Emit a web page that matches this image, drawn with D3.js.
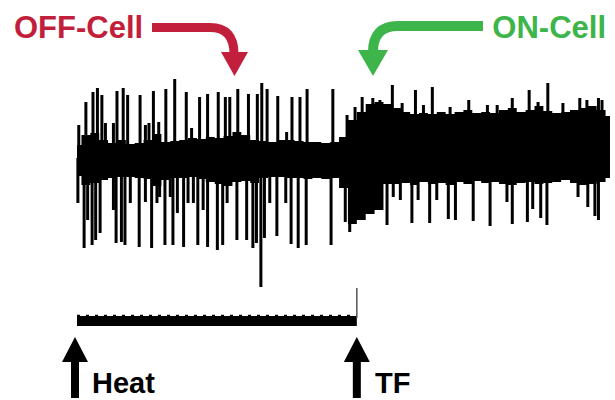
<!DOCTYPE html>
<html>
<head>
<meta charset="utf-8">
<script src="https://cdn.jsdelivr.net/npm/d3@7"></script>
<style>
  body { margin: 0; background: #fff; }
  text { font-family: "Liberation Sans", Arial, Helvetica, sans-serif; font-weight: bold; }
</style>
</head>
<body>
<div id="trace"></div>
<script>
// extracellular recording, time in s from heat onset, amplitude in uV
// envelope of the background activity, one reading per second
var envTime = d3.range(0, 61);
var envUpper = [13, 23, 25, 18, 15, 18, 14, 15, 18, 24, 16, 17, 18, 20, 19, 21, 20, 22, 26, 23,
                18, 17, 16, 18, 18, 17, 16, 16, 15, 16, 21, 38, 46, 54, 56, 54, 50, 46, 44, 45,
                44, 46, 44, 46, 48, 45, 46, 45, 48, 50, 46, 48, 52, 47, 45, 46, 48, 50, 52, 48, 42];
var envLower = [-18, -27, -25, -22, -20, -19, -19, -20, -21, -28, -22, -20, -20, -19, -21, -24, -26, -28, -24, -23,
                -25, -20, -19, -19, -20, -20, -21, -20, -21, -20, -30, -66, -62, -56, -52, -26, -26, -25, -27, -24,
                -26, -25, -27, -24, -26, -23, -25, -24, -26, -27, -25, -24, -26, -25, -24, -22, -25, -27, -26, -24, -20];

// positive going spikes
var upTime = [0.2, 1.0, 1.8, 2.3, 2.8, 3.2, 4.1, 4.5, 5.2, 5.7, 7.1, 7.7, 8.1, 8.6, 9.2, 10.0, 11.0, 12.3, 12.9, 13.8,
              14.7, 15.9, 16.7, 17.2, 18.1, 19.3, 20.3, 20.8, 21.4, 22.6, 23.6, 24.2, 25.1, 25.9, 28.8, 30.4, 31.3,
              32.1, 33.3, 34.1, 35.5, 36.6, 38.1, 39.0, 40.0, 42.0, 44.1, 46.2, 47.3, 49.0, 50.9, 51.9, 53.0, 54.7,
              56.6, 57.4, 58.7, 59.1];
var upAmp = [33, 56, 66, 70, 63, 35, 35, 67, 70, 63, 63, 33, 35, 67, 36, 69, 79, 66, 30, 61,
             64, 66, 61, 61, 69, 64, 64, 75, 69, 62, 26, 61, 61, 69, 69, 43, 51,
             61, 60, 58, 73, 55, 68, 53, 71, 51, 58, 53, 53, 60, 68, 56, 75, 55,
             60, 58, 60, 58];

// negative going spikes
var downTime = [0.1, 0.8, 1.2, 1.7, 2.1, 2.6, 4.1, 4.4, 5.0, 5.4, 6.0, 7.0, 7.7, 8.4, 9.0, 9.3, 9.9, 10.5, 10.8, 11.3,
                12.0, 12.5, 13.1, 13.6, 14.2, 14.7, 15.8, 16.4, 16.9, 18.0, 19.1, 19.8, 20.2, 20.7, 21.1, 21.7, 22.5,
                23.5, 24.1, 24.9, 25.8, 28.6, 30.2, 30.7, 34.9, 35.6, 36.4, 37.7, 38.4, 39.7, 40.5, 41.8, 42.6, 44.6,
                46.5, 48.4, 49.0, 50.7, 51.3, 52.2, 52.9, 56.4, 57.5, 58.3, 58.7];
var downAmp = [-45, -90, -62, -87, -82, -75, -52, -85, -84, -87, -45, -89, -44, -90, -45, -39, -87, -39, -87, -55,
               -89, -45, -45, -87, -52, -89, -92, -87, -45, -82, -82, -90, -85, -129, -80, -45, -78,
               -45, -86, -90, -87, -87, -64, -74, -67, -39, -42, -65, -42, -65, -42, -61, -62, -63,
               -68, -44, -66, -64, -51, -60, -67, -39, -49, -58, -62];

// stimulus markers
var heatOn = 0;
var tfTime = 31.5;
var endTime = 60;

var width = 615, height = 400;

var svg = d3.select("#trace")
  .append("svg")
    .attr("width", width)
    .attr("height", height);

var x = d3.scaleLinear()
  .domain([0, endTime])
  .range([77, 610]);

var y = d3.scaleLinear()
  .domain([-130, 80])
  .range([288, 78]);

// background band
var env = envTime.map(function(t, i) { return {t: t, hi: envUpper[i], lo: envLower[i]}; });
svg.append("path")
  .datum(env)
  .attr("fill", "#000")
  .attr("d", d3.area()
    .x(function(d) { return x(d.t); })
    .y0(function(d) { return y(d.lo); })
    .y1(function(d) { return y(d.hi); })
    .curve(d3.curveStep));

// spikes
var spikes = upTime.map(function(t, i) { return {t: t, a: upAmp[i]}; })
  .concat(downTime.map(function(t, i) { return {t: t, a: downAmp[i]}; }));

svg.selectAll("line.spike")
  .data(spikes)
  .enter()
  .append("line")
    .attr("class", "spike")
    .attr("x1", function(d) { return x(d.t); })
    .attr("x2", function(d) { return x(d.t); })
    .attr("y1", y(0))
    .attr("y2", function(d) { return y(d.a); })
    .attr("stroke", "#000")
    .attr("stroke-width", 3);

// heat stimulus trace
var heatY = 321;
svg.append("line")
  .attr("x1", x(heatOn)).attr("x2", x(tfTime))
  .attr("y1", heatY).attr("y2", heatY)
  .attr("stroke", "#000")
  .attr("stroke-width", 10);
svg.append("line")
  .attr("x1", x(heatOn)).attr("x2", x(tfTime))
  .attr("y1", heatY - 5).attr("y2", heatY - 5)
  .attr("stroke", "#000")
  .attr("stroke-width", 2.5)
  .attr("stroke-dasharray", "3,6");
svg.append("line")
  .attr("x1", x(tfTime)).attr("x2", x(tfTime))
  .attr("y1", 288).attr("y2", heatY - 3)
  .attr("stroke", "#555")
  .attr("stroke-width", 1.5);

// up arrows under the stimulus
function upArrow(cx) {
  svg.append("path")
    .attr("d", "M" + (cx - 4) + ",398 V362 H" + (cx - 13) + " L" + cx + ",337 L" + (cx + 13) + ",362 H" + (cx + 4) + " V398 Z")
    .attr("fill", "#000");
}
upArrow(x(heatOn) - 2);
upArrow(x(tfTime));

svg.append("text")
  .attr("x", 92).attr("y", 393)
  .attr("font-size", 29)
  .text("Heat");
svg.append("text")
  .attr("x", 375).attr("y", 393)
  .attr("font-size", 29)
  .text("TF");

// cell labels with bent arrows
var red = "#c21f3c", green = "#3db54a";

svg.append("text")
  .attr("x", 14).attr("y", 38)
  .attr("font-size", 31)
  .attr("fill", red)
  .text("OFF-Cell");
svg.append("path")
  .attr("d", "M152,27.5 H210 Q234,27.5 234,54")
  .attr("fill", "none")
  .attr("stroke", red)
  .attr("stroke-width", 9);
svg.append("path")
  .attr("d", "M221,52 L248,52 L234.5,76 Z")
  .attr("fill", red);

svg.append("text")
  .attr("x", 606).attr("y", 38)
  .attr("text-anchor", "end")
  .attr("font-size", 31)
  .attr("fill", green)
  .text("ON-Cell");
svg.append("path")
  .attr("d", "M483,26 H398 Q373,26 373,52")
  .attr("fill", "none")
  .attr("stroke", green)
  .attr("stroke-width", 10);
svg.append("path")
  .attr("d", "M358,50 L388,50 L373,76 Z")
  .attr("fill", green);
</script>
</body>
</html>
